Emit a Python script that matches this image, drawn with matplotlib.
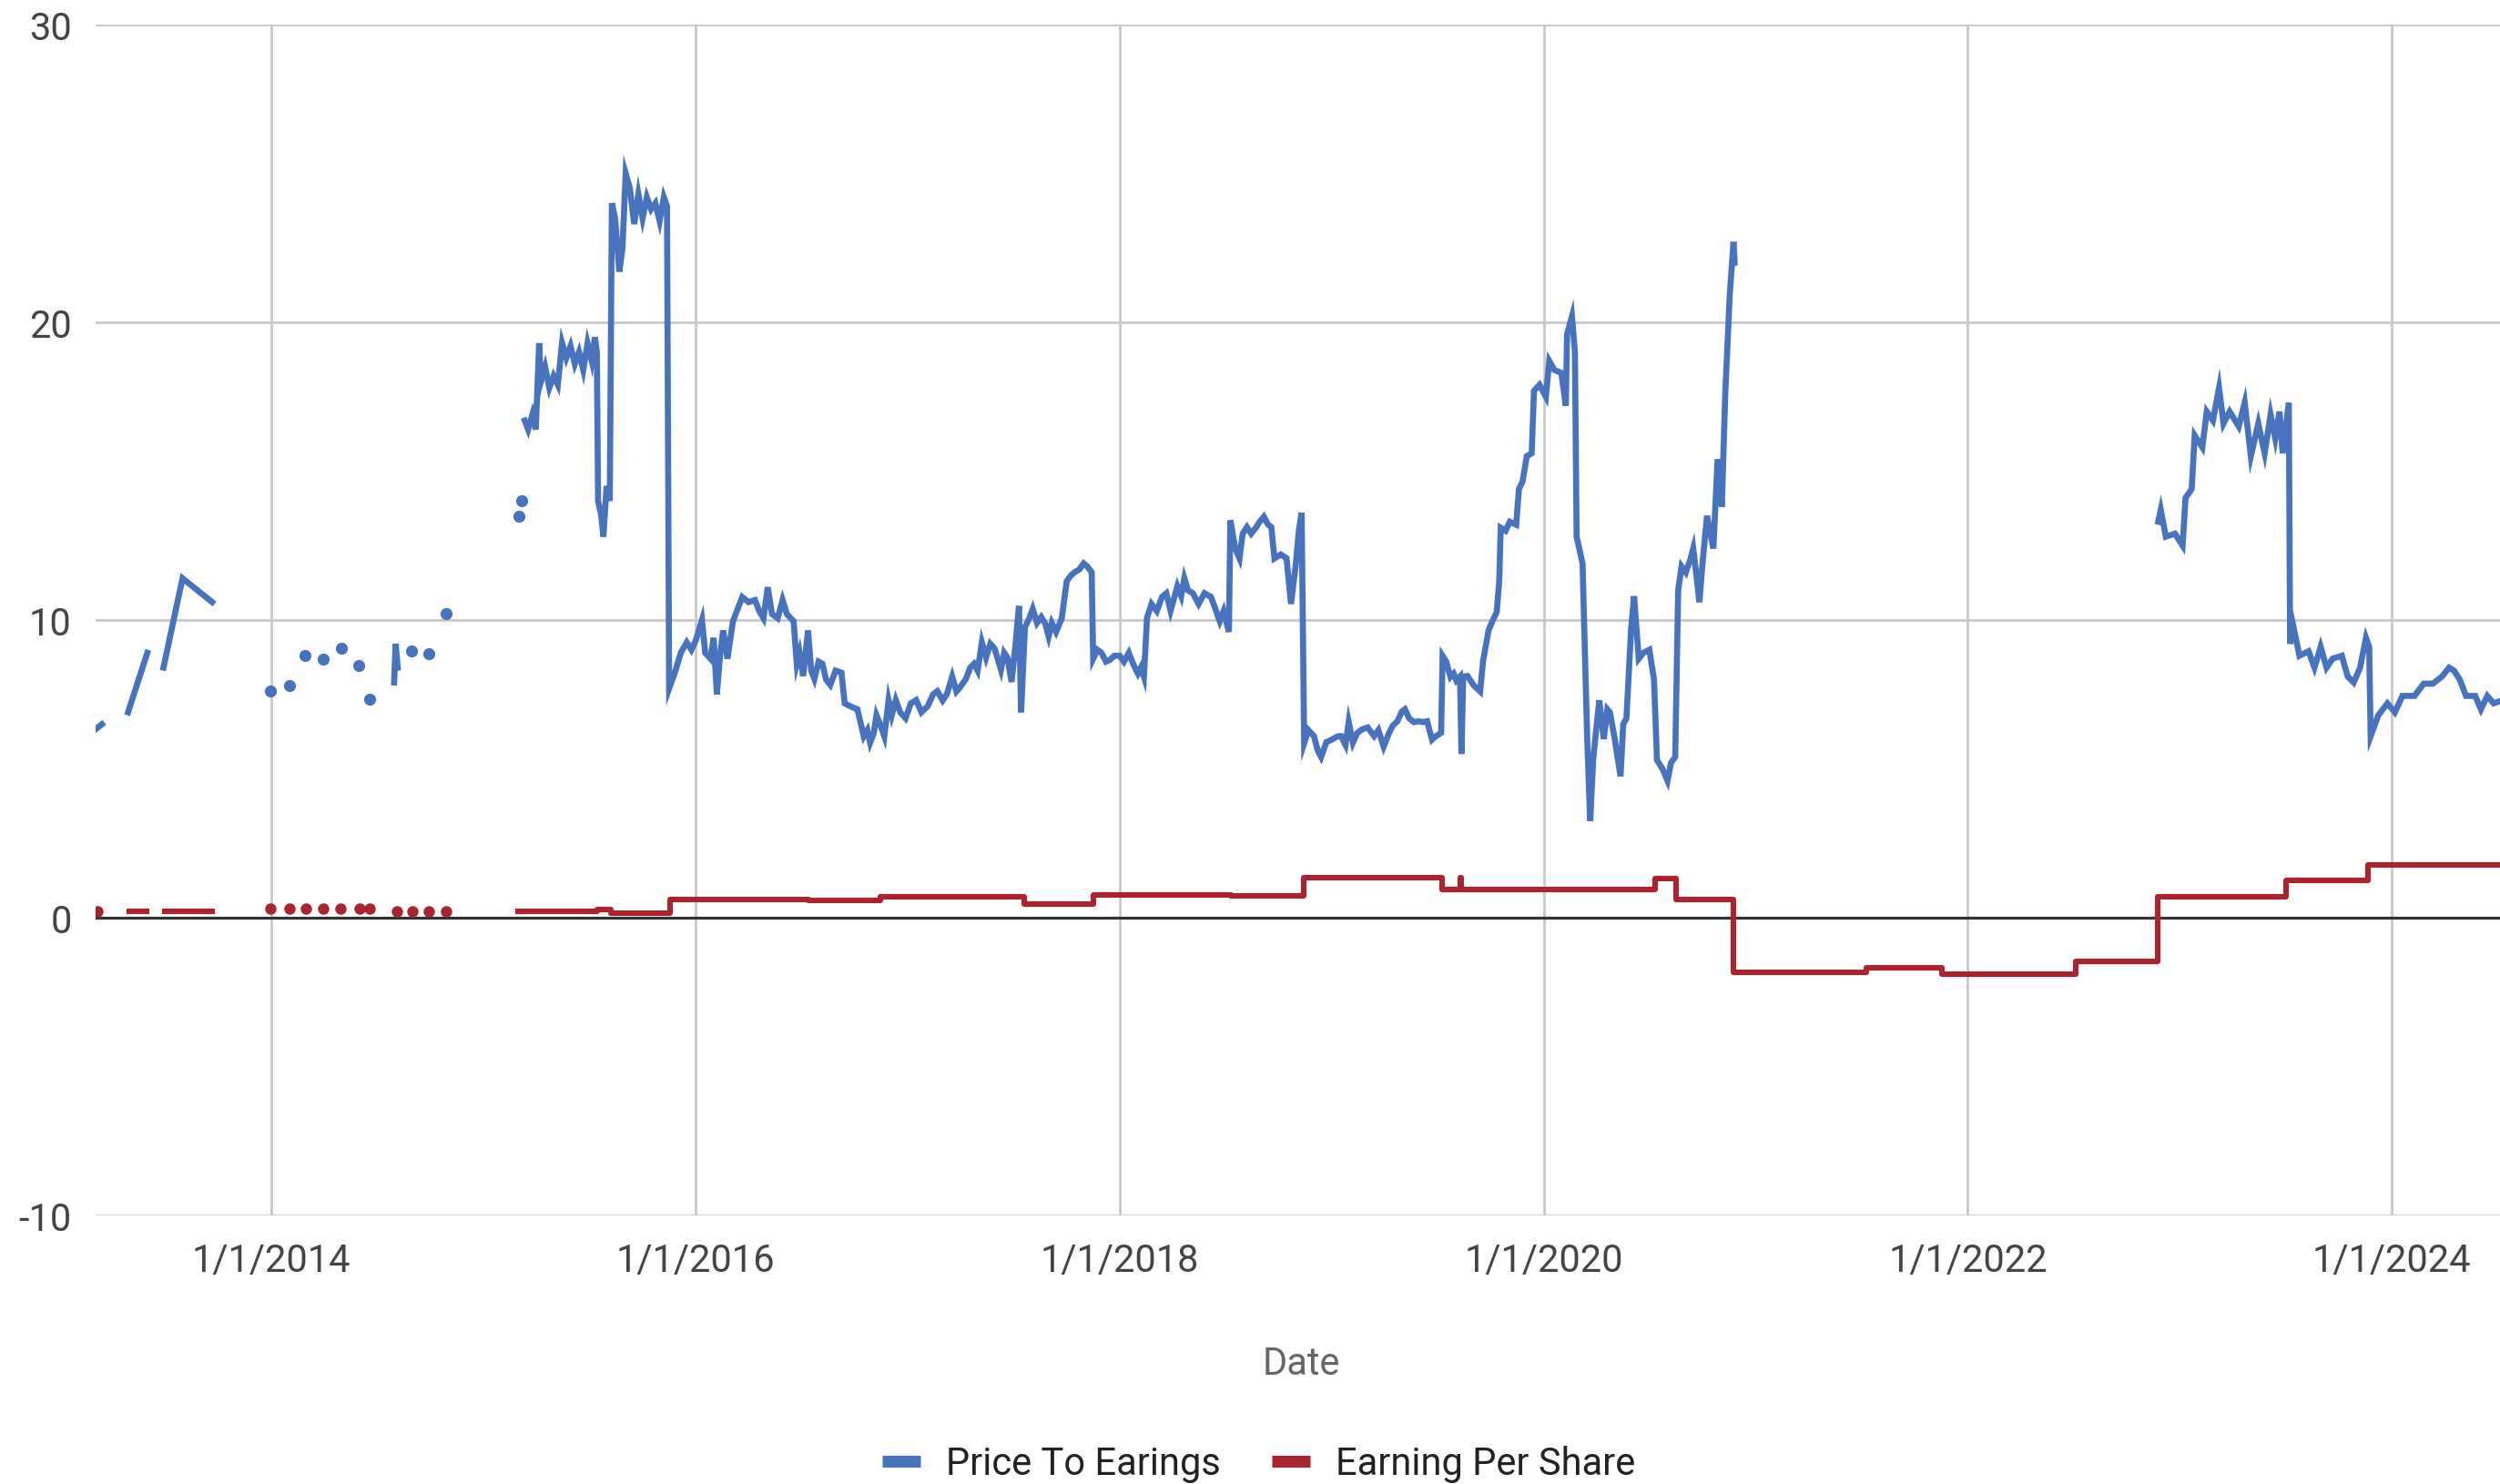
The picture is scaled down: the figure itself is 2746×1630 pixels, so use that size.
import numpy as np
import pandas as pd
import matplotlib
matplotlib.use("Agg")
import matplotlib.pyplot as plt
from matplotlib.lines import Line2D

nan = np.nan

# Price to earnings, dates as decimal years; a NaN value marks a gap
pe_years = [
    2013.164, 2013.200, 2013.200, 2013.323, 2013.414, 2013.414,
    2013.490, 2013.580, 2013.720, 2013.720,
    2013.993, 2013.993, 2014.083, 2014.083, 2014.159, 2014.159, 2014.242, 2014.242,
    2014.328, 2014.328, 2014.412, 2014.412, 2014.464, 2014.464,
    2014.578, 2014.585, 2014.595, 2014.595, 2014.658, 2014.658, 2014.740, 2014.740,
    2014.824, 2014.824, 2015.165, 2015.165, 2015.181, 2015.181,
    # 2015
    2015.194, 2015.21, 2015.23, 2015.246, 2015.262, 2015.27, 2015.29, 2015.31, 2015.33, 2015.35,
    2015.37, 2015.39, 2015.41, 2015.43, 2015.45, 2015.47, 2015.49, 2015.51, 2015.525, 2015.534,
    2015.54, 2015.555, 2015.565, 2015.58, 2015.595, 2015.605, 2015.62, 2015.64, 2015.655, 2015.67,
    2015.69, 2015.71, 2015.73, 2015.75, 2015.77, 2015.79, 2015.81, 2015.83, 2015.85, 2015.865,
    2015.875, 2015.905, 2015.93, 2015.958, 2015.98,
    # 2016
    2016.0, 2016.03, 2016.045, 2016.07, 2016.085, 2016.10, 2016.115, 2016.13, 2016.15, 2016.176,
    2016.2, 2016.22, 2016.25, 2016.28, 2016.30, 2016.32, 2016.34, 2016.36, 2016.387, 2016.41,
    2016.43, 2016.462, 2016.477, 2016.49, 2016.507, 2016.53, 2016.545, 2016.56, 2016.58, 2016.598,
    2016.615, 2016.635, 2016.66, 2016.688, 2016.703, 2016.73, 2016.763, 2016.793, 2016.81, 2016.823,
    2016.84, 2016.853, 2016.87, 2016.89, 2016.91, 2016.925, 2016.944, 2016.965, 2016.99,
    # 2017
    2017.015, 2017.04, 2017.065, 2017.094, 2017.12, 2017.14, 2017.165, 2017.185, 2017.21, 2017.23,
    2017.245, 2017.275, 2017.295, 2017.313, 2017.33, 2017.35, 2017.37, 2017.39, 2017.41, 2017.44,
    2017.455, 2017.47, 2017.49, 2017.508, 2017.525, 2017.535, 2017.553, 2017.57, 2017.59, 2017.61,
    2017.63, 2017.65, 2017.665, 2017.68, 2017.7, 2017.727, 2017.75, 2017.77, 2017.787, 2017.81,
    2017.83, 2017.847, 2017.868, 2017.875, 2017.895, 2017.914, 2017.935, 2017.952, 2017.975,
    # 2018
    2018.0, 2018.02, 2018.043, 2018.065, 2018.086, 2018.1, 2018.114, 2018.129, 2018.15, 2018.175,
    2018.2, 2018.22, 2018.24, 2018.272, 2018.29, 2018.305, 2018.322, 2018.345, 2018.372, 2018.4,
    2018.43, 2018.45, 2018.472, 2018.49, 2018.515, 2018.522, 2018.545, 2018.565, 2018.58, 2018.6,
    2018.62, 2018.644, 2018.66, 2018.68, 2018.7, 2018.715, 2018.73, 2018.76, 2018.787, 2018.808,
    2018.83, 2018.845, 2018.858, 2018.87, 2018.89, 2018.916, 2018.935, 2018.95, 2018.975,
    # 2019
    2019.0, 2019.027, 2019.044, 2019.065, 2019.08, 2019.1, 2019.12, 2019.144, 2019.17, 2019.2,
    2019.22, 2019.245, 2019.27, 2019.288, 2019.31, 2019.33, 2019.345, 2019.365, 2019.388, 2019.41,
    2019.43, 2019.45, 2019.473, 2019.49, 2019.516, 2019.523, 2019.54, 2019.56, 2019.575, 2019.588,
    2019.605, 2019.612, 2019.62, 2019.64, 2019.67, 2019.7, 2019.714, 2019.74, 2019.76, 2019.778,
    2019.79, 2019.797, 2019.82, 2019.84, 2019.87, 2019.883, 2019.9, 2019.92, 2019.943, 2019.954,
    2019.98,
    # 2020
    2020.01, 2020.026, 2020.05, 2020.083, 2020.104, 2020.11, 2020.133, 2020.147, 2020.155, 2020.183,
    2020.205, 2020.219, 2020.233, 2020.25, 2020.262, 2020.283, 2020.3, 2020.312, 2020.335, 2020.362,
    2020.375, 2020.39, 2020.412, 2020.426, 2020.448, 2020.47, 2020.498, 2020.52, 2020.534, 2020.56,
    2020.584, 2020.6, 2020.62, 2020.634, 2020.65, 2020.67, 2020.69, 2020.705, 2020.72, 2020.734,
    2020.75, 2020.77, 2020.8, 2020.82, 2020.84, 2020.856, 2020.877, 2020.888, 2020.895, 2020.9,
    2020.9,
    # 2023 - 2024
    2022.898, 2022.91, 2022.934, 2022.977, 2023.013, 2023.027, 2023.056, 2023.07, 2023.106, 2023.127,
    2023.156, 2023.185, 2023.206, 2023.235, 2023.278, 2023.306, 2023.335, 2023.37, 2023.4, 2023.428,
    2023.45, 2023.47, 2023.485, 2023.514, 2023.52, 2023.535, 2023.564, 2023.607, 2023.635, 2023.664,
    2023.692, 2023.72, 2023.764, 2023.792, 2023.82, 2023.85, 2023.878, 2023.893, 2023.9, 2023.936,
    2023.979, 2024.014, 2024.05, 2024.107, 2024.15, 2024.193, 2024.236, 2024.27, 2024.293, 2024.32,
    2024.35, 2024.393, 2024.42, 2024.45, 2024.48, 2024.52,
]
pe_values = [
    6.3, 6.5, nan, 6.9, 8.9, nan,
    8.4, 11.4, 10.6, nan,
    7.6, nan, 7.8, nan, 8.8, nan, 8.7, nan,
    9.05, nan, 8.47, nan, 7.34, nan,
    7.9, 9.2, 8.4, nan, 8.96, nan, 8.87, nan,
    10.2, nan, 13.5, nan, 14.0, nan,
    # 2015
    16.7, 16.4, 16.9, 16.4, 19.3, 18.0, 18.5, 17.8, 18.2, 17.9,
    19.3, 18.8, 19.2, 18.6, 19.0, 18.4, 19.3, 18.7, 19.5, 19.0,
    14.0, 13.5, 12.8, 14.5, 14.0, 24.0, 23.5, 21.7, 22.5, 25.0,
    24.5, 23.3, 24.3, 23.5, 24.2, 23.8, 24.0, 23.4, 24.2, 23.9,
    7.7, 8.3, 8.9, 9.25, 9.0,
    # 2016
    9.3, 10.0, 8.9, 8.7, 9.4, 7.5, 8.8, 9.65, 8.7, 9.96,
    10.4, 10.77, 10.6, 10.67, 10.3, 10.06, 11.1, 10.2, 10.06, 10.67,
    10.2, 9.96, 8.53, 8.9, 8.12, 9.65, 8.3, 8.02, 8.6, 8.53,
    8.0, 7.82, 8.3, 8.23, 7.2, 7.1, 7.0, 6.09, 6.3, 5.88,
    6.2, 6.8, 6.5, 6.09, 7.3, 6.8, 7.31, 6.9, 6.7,
    # 2017
    7.2, 7.31, 6.9, 7.1, 7.5, 7.61, 7.3, 7.51, 8.1, 7.6,
    7.72, 8.02, 8.4, 8.53, 8.3, 9.25, 8.74, 9.2, 9.04, 8.33,
    8.9, 8.74, 7.92, 9.14, 10.47, 6.9, 9.76, 10.0, 10.37, 9.9,
    10.1, 9.86, 9.45, 9.9, 9.6, 10.06, 11.3, 11.5, 11.6, 11.7,
    11.9, 11.8, 11.6, 8.7, 9.0, 8.9, 8.6, 8.65, 8.8,
    # 2018
    8.8, 8.6, 8.9, 8.5, 8.2, 8.4, 8.09, 10.08, 10.54, 10.3,
    10.78, 10.9, 10.31, 11.13, 10.8, 11.4, 11.0, 10.9, 10.54, 10.9,
    10.78, 10.4, 9.96, 10.3, 9.6, 13.35, 12.4, 12.07, 12.9, 13.12,
    12.9, 13.12, 13.3, 13.47, 13.2, 13.12, 12.07, 12.2, 12.07, 10.54,
    11.83, 13.0, 13.6, 5.86, 6.3, 6.1, 5.6, 5.4, 5.9,
    # 2019
    5.98, 6.09, 6.1, 5.8, 6.57, 5.88, 6.2, 6.33, 6.39, 6.1,
    6.3, 5.75, 6.2, 6.45, 6.6, 6.92, 7.0, 6.7, 6.57, 6.6,
    6.57, 6.6, 5.98, 6.09, 6.21, 8.79, 8.6, 8.09, 8.2, 7.97,
    8.1, 5.5, 8.1, 8.12, 7.8, 7.6, 8.63, 9.66, 10.0, 10.26,
    11.3, 13.1, 13.0, 13.3, 13.2, 14.4, 14.65, 15.5, 15.6, 17.7,
    17.9,
    # 2020
    17.5, 18.7, 18.4, 18.3, 17.2, 19.6, 20.2, 19.0, 12.8, 11.9,
    6.0, 3.25, 5.3, 6.5, 7.3, 6.0, 7.0, 6.9, 6.0, 4.75,
    6.5, 6.7, 9.7, 10.8, 8.7, 8.9, 9.0, 8.0, 5.3, 5.0,
    4.6, 5.2, 5.4, 11.0, 11.8, 11.6, 12.0, 12.4, 11.5, 10.6,
    12.0, 13.5, 12.4, 15.4, 13.8, 17.6, 20.9, 22.0, 22.7, 22.0,
    nan,
    # 2023 - 2024
    13.3, 13.7, 12.8, 12.9, 12.5, 14.1, 14.4, 16.2, 15.8, 17.0,
    16.7, 17.8, 16.6, 17.0, 16.5, 17.3, 15.5, 16.6, 15.6, 16.9,
    16.1, 17.0, 15.6, 17.3, 9.2, 9.8, 8.8, 8.95, 8.4, 9.1,
    8.4, 8.7, 8.8, 8.1, 7.9, 8.4, 9.4, 9.1, 6.1, 6.8,
    7.2, 6.9, 7.45, 7.45, 7.86, 7.86, 8.1, 8.4, 8.3, 8.0,
    7.45, 7.45, 7.0, 7.45, 7.2, 7.3,
]

# Earning per share, step series (value holds until the next date)
eps_years = [
    2013.18, 2013.18, 2013.33, 2013.41, 2013.497, 2013.72,
    2013.995, 2013.995, 2014.084, 2014.084, 2014.162, 2014.162, 2014.244, 2014.244,
    2014.326, 2014.326, 2014.415, 2014.415, 2014.461, 2014.461, 2014.593, 2014.593,
    2014.664, 2014.664, 2014.742, 2014.742, 2014.824, 2014.824,
    2015.162, 2015.536, 2015.6, 2015.88, 2016.53, 2016.87, 2017.55, 2017.877,
    2018.525, 2018.87, 2019.52, 2019.606, 2019.612, 2020.525, 2020.625, 2020.894,
    2021.52, 2021.88, 2022.507, 2022.894, 2023.5, 2023.888, 2024.51,
]
eps_values = [
    0.2, nan, 0.2, nan, 0.2, nan,
    0.31, nan, 0.31, nan, 0.31, nan, 0.31, nan,
    0.31, nan, 0.31, nan, 0.31, nan, 0.22, nan,
    0.22, nan, 0.22, nan, 0.22, nan,
    0.2, 0.29, 0.15, 0.6, 0.57, 0.69, 0.47, 0.77,
    0.74, 1.36, 0.96, 1.36, 0.96, 1.3, 0.6, -1.84,
    -1.68, -1.89, -1.48, 0.71, 1.26, 1.77, 1.77,
]

series_names = ["Price To Earings", "Earning Per Share"]
x_tick_years = [2014, 2016, 2018, 2020, 2022, 2024]
x_tick_labels = ["1/1/2014", "1/1/2016", "1/1/2018", "1/1/2020", "1/1/2022", "1/1/2024"]
y_ticks = [-10, 0, 10, 20, 30]
x_range = (2013.17, 2024.51)

BLUE = "#4672BE"
RED = "#A9242F"


def to_dates(years):
    years = np.asarray(years, dtype=float)
    return pd.Timestamp("2014-01-01") + pd.to_timedelta((years - 2014) * 365.25, unit="D")


def lone_points(dates, vals):
    v = np.asarray(vals, dtype=float)
    ok = ~np.isnan(v)
    prev_ok = np.r_[False, ok[:-1]]
    next_ok = np.r_[ok[1:], False]
    next_same = np.r_[dates[1:] == dates[:-1], True]
    return ok & ~prev_ok & ~next_ok & next_same


plt.rcParams["font.family"] = ["Roboto", "DejaVu Sans"]

fig = plt.figure(figsize=(27.46, 16.31), dpi=100)
ax = fig.add_axes([105 / 2746, 1 - 1336 / 1631, 1 - 105 / 2746, (1336 - 28) / 1631])

pe_d = to_dates(pe_years)
eps_d = to_dates(eps_years)
pe_v = np.asarray(pe_values, dtype=float)
eps_v = np.asarray(eps_values, dtype=float)

ax.plot(pe_d, pe_v, color=BLUE, lw=4.8, solid_joinstyle="miter", zorder=4)
m = lone_points(np.asarray(pe_years), pe_v)
ax.plot(pe_d[m], pe_v[m], ls="none", marker="o", ms=9.5, mew=0, color=BLUE, zorder=4)

ax.plot(eps_d, eps_v, color=RED, lw=4.4, drawstyle="steps-post", zorder=3)
m = lone_points(np.asarray(eps_years), eps_v)
ax.plot(eps_d[m], eps_v[m], ls="none", marker="o", ms=9.0, mew=0, color=RED, zorder=3)

ax.axhline(0, color="#333333", lw=2.3, zorder=2)

ax.set_xlim(to_dates(list(x_range)))
ax.set_ylim(y_ticks[0], y_ticks[-1])
ax.set_xticks(to_dates(x_tick_years))
ax.set_xticklabels(x_tick_labels)
ax.set_yticks(y_ticks)
ax.set_yticklabels([str(t) for t in y_ticks])
ax.grid(True, color="#c6c6c6", lw=1.9, zorder=0)
ax.set_axisbelow(True)
for s in ax.spines.values():
    s.set_visible(False)
ax.tick_params(axis="both", length=0, labelsize=30, labelcolor="#444444")
ax.tick_params(axis="x", pad=21)
ax.tick_params(axis="y", pad=19)

fig.text(0.5205, 1 - 1510 / 1631, "Date", ha="center", va="baseline", fontsize=30, color="#666666")

handles = [Line2D([], [], color=BLUE, lw=9.4, solid_capstyle="butt"),
           Line2D([], [], color=RED, lw=9.4, solid_capstyle="butt")]
fig.legend(handles, series_names, loc="center", bbox_to_anchor=(0.5035, 1 - 1609 / 1631),
           ncol=2, frameon=False, fontsize=30, handlelength=1.0, handletextpad=0.67,
           columnspacing=1.35, borderpad=0, labelcolor="#222222")

fig.savefig("out.png", dpi=100)
